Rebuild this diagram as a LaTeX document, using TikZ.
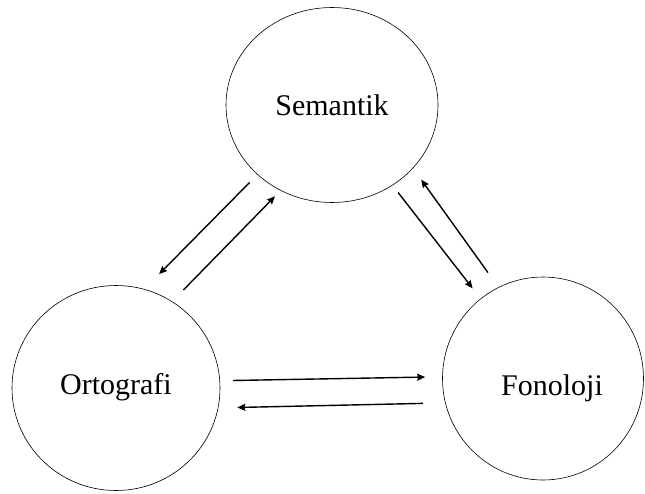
\documentclass[tikz,border=0pt]{standalone}
\usepackage{fontspec}
\setmainfont{Liberation Serif}
\usepackage{tikz}
\usetikzlibrary{arrows.meta, shapes.geometric}

\begin{document}
\begin{tikzpicture}[x=1pt, y=-1pt,
  kume/.style={ellipse, draw, line width=0.6pt, inner sep=0pt},
  etiket/.style={font=\fontsize{30}{36}\selectfont},
  ok/.style={line width=1.4pt, -{Stealth[length=8pt, width=7pt, inset=1pt]}}]
\useasboundingbox (0,0) rectangle (645,493);
% daireler
\node[kume, minimum width=212pt, minimum height=195pt,
  label={[etiket]center:Semantik}] (sem) at (332,105) {};
\node[kume, minimum width=208pt, minimum height=205pt,
  label={[etiket, yshift=1pt]center:Ortografi}] (ort) at (116,388) {};
\node[kume, minimum width=201pt, minimum height=203pt,
  label={[etiket, xshift=9pt, yshift=-10pt]center:Fonoloji}] (fon) at (543,378.5) {};
% oklar
\draw[ok, shorten <=11pt, shorten >=21pt] (sem.223) -- (ort.74);
\draw[ok, shorten <=16pt, shorten >=8pt] (ort.57) -- (sem.239);
\draw[ok, shorten <=9pt, shorten >=13pt] (sem.307) -- (fon.128.6);
\draw[ok, shorten <=18pt, shorten >=14pt] (fon.116) -- (sem.322);
\draw[ok, shorten <=13pt, shorten >=17pt] (ort.4) -- (fon.179);
\draw[ok, shorten <=22pt, shorten >=19pt] (fon.194.6) -- (ort.349.5);
\end{tikzpicture}
\end{document}
